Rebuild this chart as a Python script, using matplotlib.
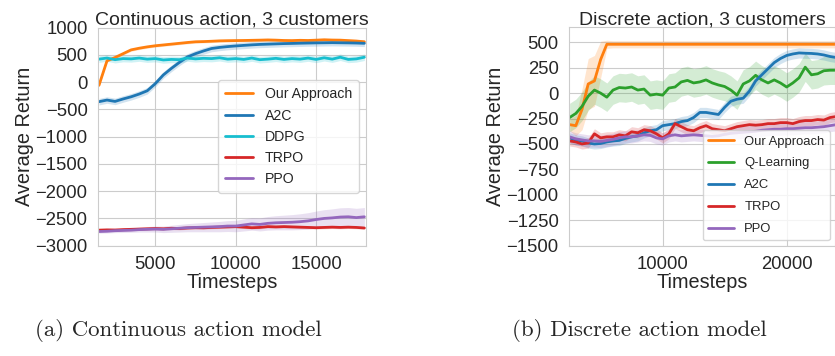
import matplotlib
matplotlib.use("Agg")
import matplotlib.pyplot as plt
import seaborn as sns
import numpy as np

# ---------------- data: continuous action ----------------
x_cont = [1500, 2000, 2500, 3000, 3500, 4000, 4500, 5000, 5500, 6000, 6500, 7000,
          7500, 8000, 8500, 9000, 9500, 10000, 10500, 11000, 11500, 12000, 12500,
          13000, 13500, 14000, 14500, 15000, 15500, 16000, 16500, 17000, 17500, 18000]
our_c = [-60, 390, 450, 520, 590, 620, 645, 665, 680, 695, 710, 725, 738, 742, 748, 755,
         758, 760, 762, 765, 768, 772, 768, 762, 760, 765, 762, 768, 775, 770, 768, 760, 752, 738]
a2c_c = [-360, -330, -355, -310, -270, -220, -160, -30, 130, 250, 360, 460, 520, 570, 615,
         635, 650, 662, 672, 682, 690, 695, 700, 705, 708, 712, 715, 718, 720, 722, 720, 718, 715, 710]
ddpg_c = [420, 440, 410, 430, 425, 440, 420, 430, 405, 415, 410, 440, 425, 435, 430, 445,
          420, 430, 415, 440, 410, 420, 435, 415, 430, 420, 440, 415, 445, 420, 455, 415, 425, 455]
trpo_c = [-2715, -2710, -2712, -2705, -2700, -2695, -2690, -2685, -2690, -2680, -2685, -2675,
          -2670, -2672, -2665, -2660, -2655, -2650, -2660, -2670, -2665, -2650, -2655, -2650,
          -2655, -2660, -2665, -2670, -2665, -2660, -2665, -2660, -2665, -2675]
ppo_c = [-2740, -2735, -2725, -2720, -2715, -2705, -2700, -2695, -2700, -2690, -2680, -2670,
         -2665, -2660, -2655, -2650, -2640, -2640, -2620, -2600, -2610, -2590, -2580, -2575,
         -2570, -2560, -2545, -2520, -2500, -2490, -2475, -2470, -2485, -2470]
band_c = {"Our Approach": 25, "A2C": 60, "DDPG": 60, "TRPO": 25}
ppo_c_band = [30, 32, 35, 38, 40, 45, 50, 55, 60, 65, 70, 75, 80, 85, 90, 95, 100, 105,
              110, 115, 120, 125, 130, 135, 140, 145, 150, 155, 160, 165, 170, 170, 170, 170]
labels_c = ["Our Approach", "A2C", "DDPG", "TRPO", "PPO"]

# ---------------- data: discrete action ----------------
x_disc = [2500, 3000, 3500, 4000, 4500, 5000, 5500, 6000, 6500, 7000, 7500, 8000, 8500,
          9000, 9500, 10000, 10500, 11000, 11500, 12000, 12500, 13000, 13500, 14000, 14500,
          15000, 15500, 16000, 16500, 17000, 17500, 18000, 18500, 19000, 19500, 20000, 20500,
          21000, 21500, 22000, 22500, 23000, 23500, 24000]
our_d = [-310, -320, -160, 90, 120, 330, 480, 480, 480, 480, 480, 480, 480, 480, 480, 480,
         480, 480, 480, 480, 480, 480, 480, 480, 480, 480, 480, 480, 480, 480, 480, 480, 480,
         480, 480, 480, 480, 480, 480, 480, 480, 480, 480, 480]
our_d_band = [60, 100, 200, 250, 250, 180, 40, 35, 35, 35, 35, 35, 35, 35, 35, 35, 35, 35,
              35, 35, 35, 35, 35, 35, 35, 35, 35, 35, 35, 35, 35, 35, 35, 35, 35, 35, 35, 35,
              35, 35, 35, 35, 35, 35]
ql_d = [-240, -200, -130, -30, 30, 0, -40, 30, 55, 50, 60, 30, 40, -20, -10, -20, 50, 60,
        110, 125, 100, 110, 130, 100, 80, 65, 30, -20, 90, 120, 175, 130, 100, 130, 100, 60,
        100, 150, 255, 180, 190, 220, 225, 225]
a2c_d = [-440, -460, -470, -490, -500, -495, -480, -470, -465, -445, -430, -420, -390, -370,
         -360, -320, -310, -300, -280, -270, -240, -190, -190, -200, -210, -140, -80, -60,
         -50, 20, 120, 180, 240, 300, 340, 370, 385, 395, 392, 390, 385, 375, 360, 350]
trpo_d = [-470, -480, -500, -490, -400, -440, -430, -430, -410, -420, -380, -390, -360, -370,
          -400, -440, -400, -300, -330, -360, -370, -340, -320, -350, -360, -370, -350, -330,
          -320, -310, -315, -310, -300, -300, -290, -290, -300, -280, -270, -270, -260, -265,
          -240, -230]
ppo_d = [-430, -450, -460, -470, -470, -475, -465, -455, -440, -430, -430, -420, -410, -415,
         -440, -450, -420, -410, -420, -415, -410, -415, -420, -425, -420, -405, -395, -390,
         -385, -380, -375, -365, -360, -355, -355, -350, -350, -345, -340, -340, -335, -330,
         -320, -310]
band_d = {"Q-Learning": 140, "A2C": 50, "TRPO": 50, "PPO": 60}
labels_d = ["Our Approach", "Q-Learning", "A2C", "TRPO", "PPO"]

captions = ["(a) Continuous action model", "(b) Discrete action model"]

# ---------------- style ----------------
sns.set_style("whitegrid")
plt.rcParams["font.family"] = ["Liberation Sans", "DejaVu Sans"]

C_OR = "#ff7f0e"; C_BL = "#1f77b4"; C_CY = "#17becf"; C_RD = "#d62728"
C_PU = "#9467bd"; C_GR = "#2ca02c"

fig = plt.figure(figsize=(8.35, 3.56), dpi=100)
ax1 = fig.add_axes([98 / 835, 1 - 245.7 / 356, 268 / 835, 218.2 / 356])
ax2 = fig.add_axes([569 / 835, 1 - 245.7 / 356, 266 / 835, 218.7 / 356])

def draw(ax, x, y, band, color, label):
    y = np.asarray(y, dtype=float)
    b = np.asarray(band, dtype=float) * np.ones_like(y)
    ax.fill_between(x, y - b, y + b, color=color, alpha=0.2, linewidth=0)
    ax.plot(x, y, color=color, lw=2.0, label=label)

# left
series_c = [our_c, a2c_c, ddpg_c, trpo_c, ppo_c]
cols_c = [C_OR, C_BL, C_CY, C_RD, C_PU]
for lab, ys, col in zip(labels_c, series_c, cols_c):
    bb = ppo_c_band if lab == "PPO" else band_c[lab]
    draw(ax1, x_cont, ys, bb, col, lab)
ax1.set_xlim(1440, 18100)
ax1.set_ylim(-3000, 1000)
ax1.set_xticks([5000, 10000, 15000])
ax1.set_yticks(range(-3000, 1001, 500))
ax1.tick_params(labelsize=13.3, pad=4)
ax1.set_title("Continuous action, 3 customers", fontsize=14, pad=2)
ax1.set_xlabel("Timesteps", fontsize=14.3, labelpad=0)
ax1.set_ylabel("Average Return", fontsize=14.3, labelpad=1)
ax1.legend(loc="center right", fontsize=10.2, handlelength=2.0, borderaxespad=0.5,
           borderpad=0.5)

# right
series_d = [our_d, ql_d, a2c_d, trpo_d, ppo_d]
cols_d = [C_OR, C_GR, C_BL, C_RD, C_PU]
for lab, ys, col in zip(labels_d, series_d, cols_d):
    bb = our_d_band if lab == "Our Approach" else band_d[lab]
    draw(ax2, x_disc, ys, bb, col, lab)
ax2.set_xlim(2450, 23900)
ax2.set_ylim(-1500, 650)
ax2.set_xticks([10000, 20000])
ax2.set_yticks(range(-1500, 501, 250))
ax2.tick_params(labelsize=13.3, pad=4)
ax2.set_title("Discrete action, 3 customers", fontsize=14, pad=2)
ax2.set_xlabel("Timesteps", fontsize=14.3, labelpad=0)
ax2.set_ylabel("Average Return", fontsize=14.3, labelpad=1)
ax2.legend(loc="lower right", fontsize=9.4, handlelength=2.0, borderaxespad=0.4,
           labelspacing=0.75)

fig.text(35 / 835, 1 - 331 / 356, captions[0], ha="left", va="center",
         fontsize=16.5, family="cmr10")
fig.text(512 / 835, 1 - 331 / 356, captions[1], ha="left", va="center",
         fontsize=16.5, family="cmr10")

fig.savefig("out.png", dpi=100)
